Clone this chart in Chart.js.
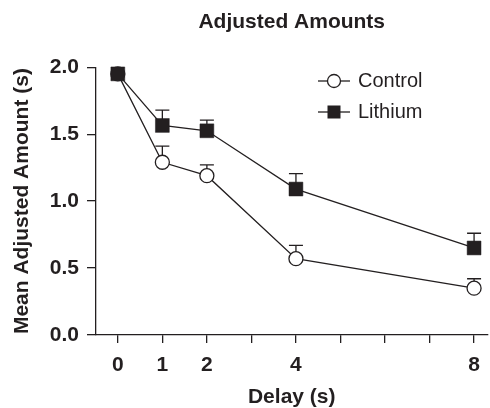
<!DOCTYPE html>
<html>
<head>
<meta charset="utf-8">
<script src="https://cdn.jsdelivr.net/npm/chart.js@4/dist/chart.umd.min.js"></script>
<style>
  html, body { margin: 0; padding: 0; background: #fff; }
  #wrap { width: 490px; height: 408px; }
</style>
</head>
<body>
<div id="wrap"><canvas id="c" width="490" height="408"></canvas></div>
<script>
// ---- data ----
const delays = [0, 1, 2, 4, 8];
const controlMeans = [1.95, 1.29, 1.19, 0.57, 0.35];
const controlErr = [0.0, 0.12, 0.08, 0.10, 0.07];
const lithiumMeans = [1.95, 1.565, 1.525, 1.09, 0.65];
const lithiumErr = [0.0, 0.115, 0.08, 0.115, 0.11];
const xTickValues = [0, 1, 2, 3, 4, 5, 6, 7, 8];
const xTickLabels = [0, 1, 2, 4, 8];
const yTickValues = [0, 0.5, 1.0, 1.5, 2.0];
const seriesNames = ['Control', 'Lithium'];

const INK = '#231f20';
const FONT = '"Liberation Sans", Arial, Helvetica, sans-serif';

const errorBars = {
  id: 'errorBars',
  beforeDatasetsDraw(chart) {
    const ctx = chart.ctx;
    const ys = chart.scales.y;
    const errs = [controlErr, lithiumErr];
    ctx.save();
    ctx.strokeStyle = INK;
    ctx.lineWidth = 1.3;
    chart.data.datasets.forEach((ds, di) => {
      const meta = chart.getDatasetMeta(di);
      meta.data.forEach((pt, i) => {
        const e = errs[di][i];
        if (!e) return;
        const y0 = ys.getPixelForValue(ds.data[i].y);
        const y1 = ys.getPixelForValue(ds.data[i].y + e);
        ctx.beginPath();
        ctx.moveTo(pt.x, y0);
        ctx.lineTo(pt.x, y1);
        ctx.moveTo(pt.x - 7, y1);
        ctx.lineTo(pt.x + 7, y1);
        ctx.stroke();
      });
    });
    ctx.restore();
  }
};

const customLegend = {
  id: 'customLegend',
  afterDraw(chart) {
    const ctx = chart.ctx;
    const x0 = 318, x1 = 350, tx = 358;
    const rows = [81, 112];
    ctx.save();
    chart.data.datasets.forEach((ds, i) => {
      const y = rows[i];
      ctx.strokeStyle = INK;
      ctx.lineWidth = 1.3;
      ctx.beginPath();
      ctx.moveTo(x0, y); ctx.lineTo(x1, y); ctx.stroke();
      const cx = (x0 + x1) / 2;
      ctx.beginPath();
      if (ds.pointStyle === 'circle') {
        ctx.arc(cx, y, 6.5, 0, Math.PI * 2);
        ctx.fillStyle = '#fff';
        ctx.fill();
        ctx.stroke();
      } else {
        ctx.fillStyle = INK;
        ctx.fillRect(cx - 6.5, y - 6.5, 13, 13);
      }
      ctx.fillStyle = INK;
      ctx.font = '20px ' + FONT;
      ctx.textBaseline = 'middle';
      ctx.textAlign = 'left';
      ctx.fillText(ds.label, tx, y);
    });
    ctx.restore();
  }
};

new Chart(document.getElementById('c'), {
  type: 'line',
  data: {
    datasets: [
      {
        label: seriesNames[0],
        order: 1,
        data: delays.map((d, i) => ({ x: d, y: controlMeans[i] })),
        borderColor: INK,
        borderWidth: 1.3,
        pointStyle: 'circle',
        pointRadius: 7,
        pointBackgroundColor: '#fff',
        pointBorderColor: INK,
        pointBorderWidth: 1.3,
        clip: false,
        tension: 0
      },
      {
        label: seriesNames[1],
        order: 0,
        data: delays.map((d, i) => ({ x: d, y: lithiumMeans[i] })),
        borderColor: INK,
        borderWidth: 1.3,
        pointStyle: 'rect',
        pointRadius: 9.8,
        pointBackgroundColor: INK,
        pointBorderColor: INK,
        pointBorderWidth: 0.5,
        clip: false,
        tension: 0
      }
    ]
  },
  options: {
    responsive: false,
    animation: false,
    events: [],
    layout: { padding: 0, autoPadding: false },
    plugins: {
      legend: { display: false },
      tooltip: { enabled: false },
      title: {
        display: true,
        text: 'Adjusted Amounts',
        fullSize: false,
        color: INK,
        font: { family: FONT, size: 21, weight: 'bold' },
        padding: { top: 10, bottom: 32 }
      }
    },
    scales: {
      x: {
        type: 'linear',
        min: -0.49,
        max: 8.3,
        afterBuildTicks: (s) => { s.ticks = xTickValues.map(v => ({ value: v })); },
        afterFit: (s) => { s.height = 73; },
        grid: { display: true, drawOnChartArea: false, drawTicks: true, tickLength: 8, color: INK, lineWidth: 1.3 },
        border: { display: true, color: INK, width: 1.3 },
        ticks: {
          autoSkip: false,
          maxRotation: 0,
          padding: 10,
          color: INK,
          font: { family: FONT, size: 21, weight: 'bold' },
          callback: (v) => xTickLabels.includes(v) ? String(v) : ''
        },
        title: {
          display: true,
          text: 'Delay (s)',
          color: INK,
          font: { family: FONT, size: 21, weight: 'bold' },
          padding: { top: 8, bottom: -2 }
        }
      },
      y: {
        type: 'linear',
        min: 0,
        max: 2.0,
        afterBuildTicks: (s) => { s.ticks = yTickValues.map(v => ({ value: v })); },
        afterFit: (s) => { s.width = 96; },
        grid: { display: true, drawOnChartArea: false, drawTicks: true, tickLength: 9, color: INK, lineWidth: 1.3 },
        border: { display: true, color: INK, width: 1.3 },
        ticks: {
          padding: 8,
          color: INK,
          font: { family: FONT, size: 21, weight: 'bold' },
          callback: (v) => Number(v).toFixed(1)
        },
        title: {
          display: true,
          text: 'Mean Adjusted Amount (s)',
          color: INK,
          font: { family: FONT, size: 21, weight: 'bold' },
          padding: { top: 10, bottom: 4 }
        }
      }
    }
  },
  plugins: [errorBars, customLegend]
});
</script>
</body>
</html>
